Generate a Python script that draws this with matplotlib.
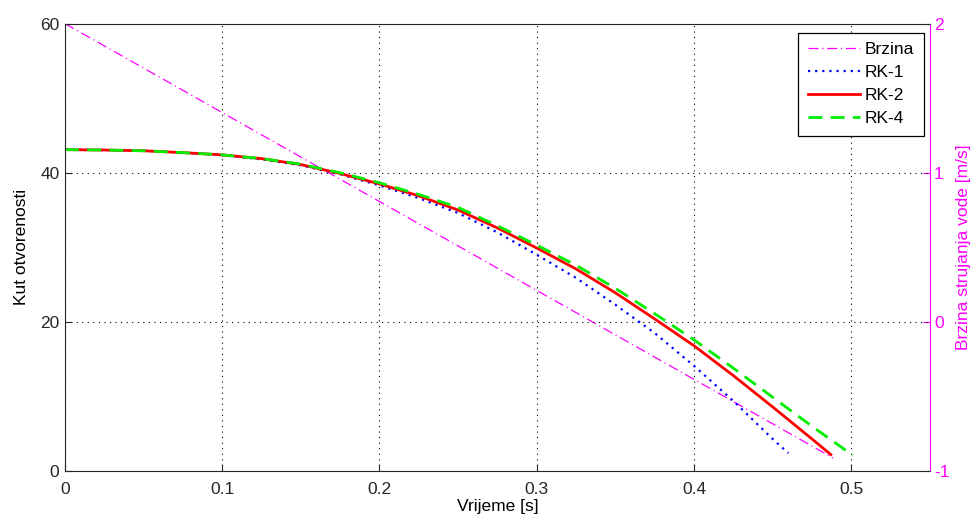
import matplotlib
matplotlib.use("Agg")
import matplotlib.pyplot as plt

plt.rcParams['font.family'] = ['Liberation Sans', 'DejaVu Sans']
FS = 12.5
plt.rcParams['font.size'] = FS

# Brzina (right axis, m/s)
t_brz = [0.0, 0.4885]
v_brz = [2.0, -0.913]

# RK-1
t_rk1 = [0.0, 0.025, 0.05, 0.075, 0.1, 0.125, 0.15, 0.175, 0.2, 0.225, 0.25,
         0.275, 0.3, 0.325, 0.35, 0.375, 0.4, 0.425, 0.45, 0.46]
y_rk1 = [43.1, 43.05, 42.95, 42.7, 42.35, 41.8, 41.0, 39.8, 38.3, 36.6, 34.6,
         32.0, 29.0, 25.9, 22.3, 18.5, 14.1, 9.4, 4.3, 2.4]
# RK-2
t_rk2 = [0.0, 0.025, 0.05, 0.075, 0.1, 0.125, 0.15, 0.175, 0.2, 0.225, 0.25,
         0.275, 0.3, 0.325, 0.35, 0.375, 0.4, 0.425, 0.45, 0.475, 0.487]
y_rk2 = [43.1, 43.05, 42.95, 42.7, 42.4, 41.9, 41.1, 39.9, 38.5, 36.9, 35.0,
         32.6, 29.9, 27.1, 23.9, 20.4, 16.8, 12.8, 8.6, 4.3, 2.2]
# RK-4
t_rk4 = [0.0, 0.025, 0.05, 0.075, 0.1, 0.125, 0.15, 0.175, 0.2, 0.225, 0.25,
         0.275, 0.3, 0.325, 0.35, 0.375, 0.4, 0.425, 0.45, 0.475, 0.501]
y_rk4 = [43.1, 43.05, 42.95, 42.7, 42.4, 41.9, 41.15, 40.0, 38.65, 37.1, 35.35,
         32.9, 30.3, 27.6, 24.5, 21.1, 17.6, 13.8, 9.9, 6.0, 2.1]

xticks = [0, 0.1, 0.2, 0.3, 0.4, 0.5]
xticklabels = ['0', '0.1', '0.2', '0.3', '0.4', '0.5']
yticks_left = [0, 20, 40, 60]
yticks_right = [-1, 0, 1, 2]

mag = '#ff00ff'
axc = '#262626'

fig = plt.figure(figsize=(9.74, 5.22), dpi=100)
ax = fig.add_axes([0.0667, 0.0977, 0.888, 0.857])
ax2 = ax.twinx()

ax.set_zorder(ax2.get_zorder() + 1)
ax.patch.set_visible(False)

l2, = ax2.plot(t_brz, v_brz, color=mag, linestyle=(0, (8, 3, 1, 3)), linewidth=0.9, label='Brzina')
ax2.set_ylim(-1, 2)
ax2.set_yticks(yticks_right)
ax2.set_yticklabels([str(v) for v in yticks_right])
ax2.tick_params(axis='y', colors=mag, direction='in', length=5, labelsize=FS, pad=3)
ax2.spines['right'].set_color(mag)
ax2.spines['left'].set_visible(False)
ax2.spines['top'].set_visible(False)
ax2.spines['bottom'].set_visible(False)
ax2.set_ylabel('Brzina strujanja vode [m/s]', color=mag, fontsize=FS, labelpad=5)

lr1, = ax.plot(t_rk1, y_rk1, color='#0000ff', linestyle=(0, (1, 2.2)), linewidth=1.6, label='RK-1')
lr2, = ax.plot(t_rk2, y_rk2, color='#ff0000', linestyle='-', linewidth=2.0, label='RK-2')
lr4, = ax.plot(t_rk4, y_rk4, color='#00ee00', linestyle=(0, (5, 3)), linewidth=2.0, label='RK-4')

ax.set_xlim(0, 0.55)
ax.set_ylim(0, 60)
ax.set_xticks(xticks)
ax.set_xticklabels(xticklabels)
ax.set_yticks(yticks_left)
ax.tick_params(direction='in', length=5, colors=axc, labelsize=FS)
ax.tick_params(axis='x', pad=8)
ax.tick_params(axis='y', right=False, pad=4)
ax.grid(True, color='black', linestyle=(0, (1, 4)), linewidth=0.8)
for s in ['left', 'bottom', 'top']:
    ax.spines[s].set_color(axc)
ax.spines['right'].set_visible(False)
ax.set_xlabel('Vrijeme [s]', labelpad=1)
ax.set_ylabel('Kut otvorenosti', labelpad=8)

leg = ax.legend(handles=[l2, lr1, lr2, lr4], loc='upper right',
                bbox_to_anchor=(0.993, 0.98), fancybox=False, framealpha=1,
                edgecolor='black', handlelength=3.0, handletextpad=0.3,
                borderpad=0.55, labelspacing=0.45, borderaxespad=0.0,
                fontsize=FS)
leg.get_frame().set_linewidth(0.9)

fig.savefig('out.png', dpi=100, facecolor='white')
